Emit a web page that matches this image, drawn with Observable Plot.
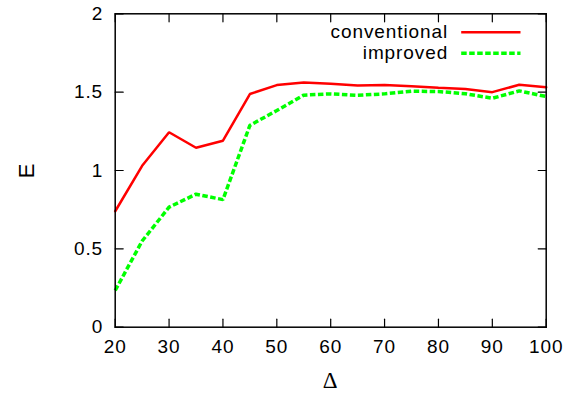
<!DOCTYPE html>
<html><head><meta charset="utf-8">
<script src="https://cdn.jsdelivr.net/npm/d3@7"></script>
<script src="https://cdn.jsdelivr.net/npm/@observablehq/plot@0.6"></script>
<style>
html,body{margin:0;padding:0;background:#fff;}
#chart svg text{letter-spacing:0.9px;}
</style></head><body><div id="chart"></div>
<script>
const delta = [20, 25, 30, 35, 40, 45, 50, 55, 60, 65, 70, 75, 80, 85, 90, 95, 100];
const conventional = [0.74, 1.03, 1.244, 1.145, 1.19, 1.488, 1.545, 1.562, 1.553, 1.542, 1.545, 1.537, 1.528, 1.52, 1.5, 1.547, 1.531];
const improved = [0.234, 0.55, 0.766, 0.849, 0.814, 1.288, 1.383, 1.481, 1.489, 1.48, 1.489, 1.506, 1.504, 1.49, 1.461, 1.508, 1.472];
const seriesNames = ["conventional", "improved"];
const xTicks = [20, 30, 40, 50, 60, 70, 80, 90, 100];
const yTicks = [0, 0.5, 1, 1.5, 2];
const xLabel = "Δ";
const yLabel = "E";

const data = delta.map((d, i) => ({delta: d, conventional: conventional[i], improved: improved[i]}));
const tickShape = {draw(ctx, l) { ctx.moveTo(0, 0); ctx.lineTo(0, -l); }};
const font = "'Liberation Sans', Arial, Helvetica, sans-serif";
const red = "#ff0000", green = "#00ff00";
const tk = {length: 8, anchor: "start", shape: tickShape, stroke: "#000", strokeWidth: 1.2};
const dash = {strokeDasharray: "5.5,2.5", strokeLinecap: "butt"};

const chart = Plot.plot({
  width: 575, height: 399,
  marginLeft: 114.7, marginRight: 29.3, marginTop: 13.3, marginBottom: 72.3,
  style: {fontFamily: font, fontSize: "19px", background: "#fff", color: "#000"},
  x: {domain: [20, 100]},
  y: {domain: [0, 2]},
  marks: [
    Plot.line(data, {x: "delta", y: "conventional", stroke: red, strokeWidth: 2.5, strokeLinejoin: "miter"}),
    Plot.line(data, {x: "delta", y: "improved", stroke: green, strokeWidth: 3.5, strokeLinejoin: "miter", ...dash}),
    Plot.frame({stroke: "#000", strokeWidth: 1.5}),
    Plot.vector(xTicks, {...tk, x: d => d, y: 0, rotate: 0}),
    Plot.vector(xTicks, {...tk, x: d => d, y: 2, rotate: 180}),
    Plot.vector(yTicks, {...tk, x: 20, y: d => d, rotate: 90}),
    Plot.vector(yTicks, {...tk, x: 100, y: d => d, rotate: -90}),
    Plot.axisX(xTicks, {tickSize: 0, tickPadding: 12.5, fontSize: 19, label: null, tickFormat: d => String(d)}),
    Plot.axisY(yTicks, {tickSize: 0, tickPadding: 12.1, fontSize: 19, label: null, tickFormat: d => String(d)}),
    Plot.text([yLabel], {frameAnchor: "left", dx: -88, rotate: -90, fontSize: 22, textAnchor: "middle", lineAnchor: "middle", text: d => d}),
    Plot.text([xLabel], {frameAnchor: "bottom", dy: 53.3, fontSize: 23, fontFamily: "'Liberation Serif', 'Times New Roman', serif", textAnchor: "middle", lineAnchor: "middle", text: d => d}),
    Plot.text([seriesNames[0]], {frameAnchor: "top-right", dx: -98.1, dy: 18.4, textAnchor: "end", lineAnchor: "middle", fontSize: 19, text: d => d}),
    Plot.text([seriesNames[1]], {frameAnchor: "top-right", dx: -98.1, dy: 39.4, textAnchor: "end", lineAnchor: "middle", fontSize: 19, text: d => d}),
    Plot.vector([seriesNames[0]], {frameAnchor: "top-right", dx: -55.35, dy: 18.4, length: 59.3, rotate: 90, anchor: "middle", shape: tickShape, stroke: red, strokeWidth: 2.5, strokeLinecap: "butt"}),
    Plot.vector([seriesNames[1]], {frameAnchor: "top-right", dx: -55.35, dy: 39.4, length: 59.3, rotate: 90, anchor: "middle", shape: tickShape, stroke: green, strokeWidth: 3.5, ...dash})
  ]
});
document.getElementById("chart").appendChild(chart);
</script>
</body></html>
